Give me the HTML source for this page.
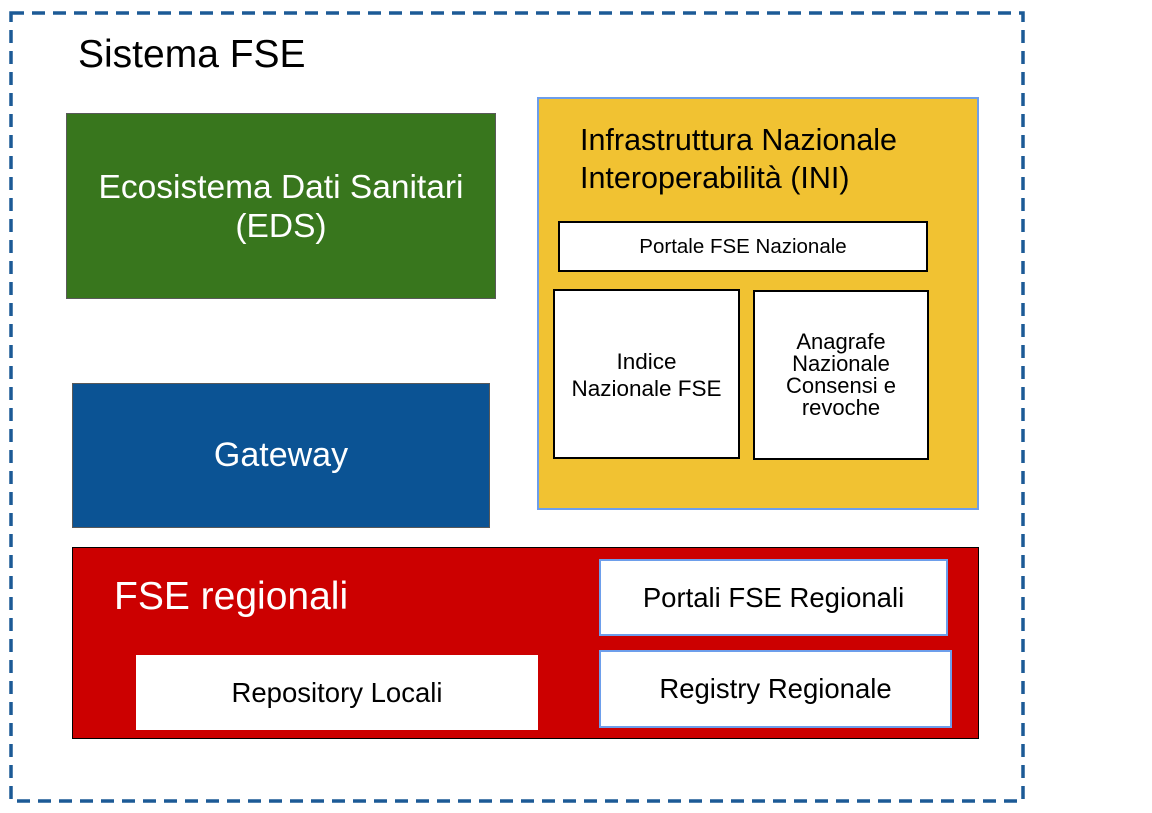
<!DOCTYPE html>
<html><head><meta charset="utf-8"><style>
html,body{margin:0;padding:0;background:#fff;width:1152px;height:813px;overflow:hidden;font-family:"Liberation Sans",sans-serif}
.b{position:absolute;box-sizing:border-box;display:flex;align-items:center;justify-content:center;text-align:center}
.t{position:absolute;white-space:nowrap}
</style></head><body>
<svg style="position:absolute;left:0;top:0" width="1152" height="813">
<rect x="11" y="13" width="1012" height="788" fill="none" stroke="#1c5a96" stroke-width="3.5" stroke-dasharray="13,8"/>
</svg>
<div class="t" style="left:78px;top:33px;font-size:39px;color:#000">Sistema FSE</div>

<div class="b" style="left:66px;top:113px;width:430px;height:186px;background:#38761d;border:1.5px solid #595959;color:#fff;font-size:33.5px;line-height:39px;padding-top:2px">Ecosistema Dati Sanitari<br>(EDS)</div>

<div class="b" style="left:72px;top:383px;width:418px;height:145px;background:#0b5394;border:1.5px solid #595959;color:#fff;font-size:34px">Gateway</div>

<div class="b" style="left:537px;top:97px;width:442px;height:413px;background:#f1c232;border:2px solid #6d9eeb"></div>
<div class="t" style="left:580px;top:121px;font-size:30.5px;line-height:38px;color:#000">Infrastruttura Nazionale<br>Interoperabilità (INI)</div>
<div class="b" style="left:558px;top:221px;width:370px;height:51px;background:#fff;border:2px solid #000;font-size:20.5px">Portale FSE Nazionale</div>
<div class="b" style="left:553px;top:289px;width:187px;height:170px;background:#fff;border:2px solid #000;font-size:22.5px;line-height:27px;padding-top:2px">Indice<br>Nazionale FSE</div>
<div class="b" style="left:753px;top:290px;width:176px;height:170px;background:#fff;border:2px solid #000;font-size:22px;line-height:22px;padding-top:0px">Anagrafe<br>Nazionale<br>Consensi e<br>revoche</div>

<div class="b" style="left:72px;top:547px;width:907px;height:192px;background:#cc0000;border:1.5px solid #000"></div>
<div class="t" style="left:114px;top:575px;font-size:39px;color:#fff">FSE regionali</div>
<div class="b" style="left:599px;top:559px;width:349px;height:77px;background:#fff;border:2px solid #6d9eeb;font-size:27.5px">Portali FSE Regionali</div>
<div class="b" style="left:599px;top:650px;width:353px;height:78px;background:#fff;border:2px solid #6d9eeb;font-size:27.5px">Registry Regionale</div>
<div class="b" style="left:136px;top:655px;width:402px;height:75px;background:#fff;font-size:27.5px">Repository Locali</div>
</body></html>
